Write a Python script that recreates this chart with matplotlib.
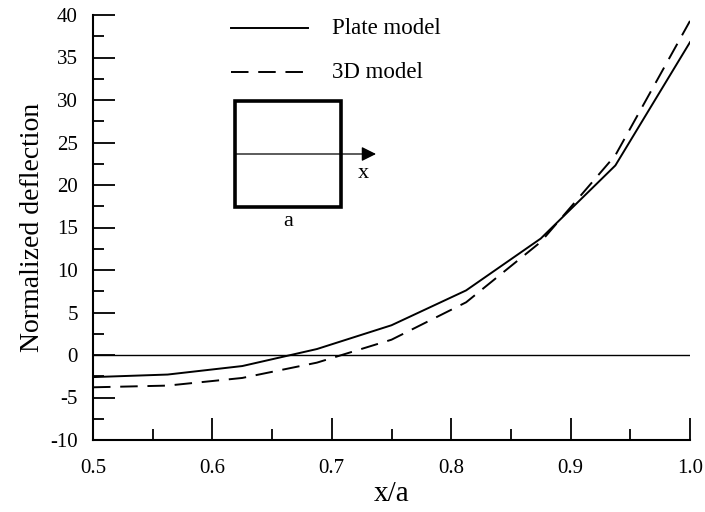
import matplotlib
matplotlib.use("Agg")
import matplotlib.pyplot as plt
from matplotlib.ticker import MultipleLocator
from matplotlib.patches import Rectangle

x_vals = [0.5, 0.5625, 0.625, 0.6875, 0.75, 0.8125, 0.875, 0.9375, 1.0]
plate_model = [-2.6, -2.3, -1.3, 0.7, 3.5, 7.6, 13.7, 22.3, 36.8]
model_3d = [-3.8, -3.6, -2.7, -0.9, 1.8, 6.2, 13.3, 23.5, 39.3]
legend_labels = ["Plate model", "3D model"]
x_tick_labels = ['0.5', '0.6', '0.7', '0.8', '0.9', '1.0']

plt.rcParams['font.family'] = ['Liberation Serif', 'DejaVu Serif']
plt.rcParams['axes.unicode_minus'] = False

fig = plt.figure(figsize=(7.05, 5.12), dpi=100)
ax = fig.add_axes([93/705, 1-440/512, (690-93)/705, (440-15)/512])

ax.plot(x_vals, plate_model, color='black', lw=1.4, solid_joinstyle='miter')
ax.plot(x_vals, model_3d, color='black', lw=1.4, dashes=(9, 5))
ax.axhline(0, color='black', lw=1.0)

ax.set_xlim(0.5, 1.0)
ax.set_ylim(-10, 40)
ax.xaxis.set_minor_locator(MultipleLocator(0.05))
ax.yaxis.set_major_locator(MultipleLocator(5))
ax.yaxis.set_minor_locator(MultipleLocator(2.5))
ax.set_xticks([0.5, 0.6, 0.7, 0.8, 0.9, 1.0])
ax.set_xticklabels(x_tick_labels)
ax.tick_params(which='major', direction='in', length=16, width=1.3, labelsize=15)
ax.tick_params(axis='x', which='major', pad=14)
ax.tick_params(axis='y', which='major', pad=11)
ax.tick_params(which='minor', direction='in', length=8, width=1.3)
ax.spines['top'].set_visible(False)
ax.spines['right'].set_visible(False)
ax.spines['left'].set_linewidth(1.5)
ax.spines['bottom'].set_linewidth(1.5)

ax.set_xlabel('x/a', fontsize=21, labelpad=2)
ax.set_ylabel('Normalized deflection', fontsize=20, labelpad=4)

def px2ax(px, py):
    return ((px - 93) / (690 - 93), (440 - py) / (440 - 15))

for i, lab in enumerate(legend_labels):
    py = 28 + i * 44
    x0, y0 = px2ax(231, py)
    x1, _ = px2ax(308, py)
    if i == 0:
        ax.plot([x0, x1], [y0, y0], transform=ax.transAxes, color='black', lw=1.4)
    else:
        ax.plot([x0, x1], [y0, y0], transform=ax.transAxes, color='black', lw=1.4, dashes=(9, 5))
    tx, _ = px2ax(332, py)
    ax.text(tx, y0, lab, transform=ax.transAxes, fontsize=16.5, va='center', ha='left')

# inset square sketch
sx0, sy0 = px2ax(235, 207)
sx1, sy1 = px2ax(341, 101)
ax.add_patch(Rectangle((sx0, sy0), sx1 - sx0, sy1 - sy0, transform=ax.transAxes,
                       fill=False, edgecolor='black', lw=2.6))
ay = px2ax(0, 154)[1]
ax.annotate('', xy=(px2ax(376, 154)[0], ay), xytext=(sx0, ay),
            xycoords='axes fraction', textcoords='axes fraction',
            arrowprops=dict(arrowstyle='-|>', color='black', lw=0.9,
                            mutation_scale=22, shrinkA=0, shrinkB=0))
xx, xy = px2ax(363, 174)
ax.text(xx, xy, 'x', transform=ax.transAxes, fontsize=16, ha='center', va='center')
axx, ayy = px2ax(288, 222)
ax.text(axx, ayy, 'a', transform=ax.transAxes, fontsize=16, ha='center', va='center')

fig.savefig('out.png', dpi=100)
